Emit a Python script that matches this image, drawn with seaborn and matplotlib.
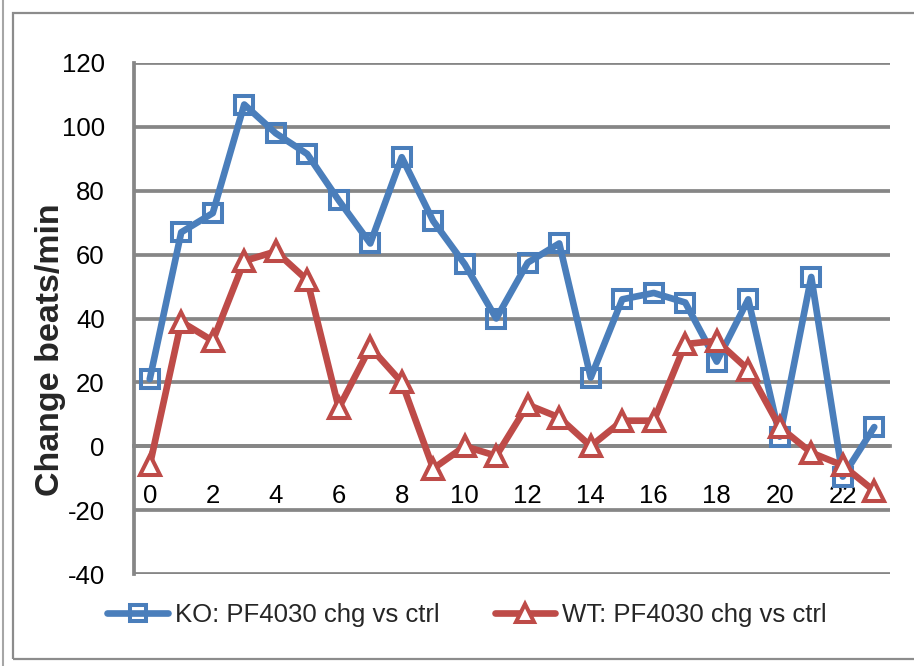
import numpy as np
import pandas as pd
import matplotlib
matplotlib.use("Agg")
import matplotlib.pyplot as plt
import seaborn as sns
from matplotlib.lines import Line2D
from matplotlib.patches import Rectangle

# ---- data ----
hours = list(range(24))
ko_values = [21, 67, 73, 107, 98, 91.5, 77, 63.5, 90.5, 70.5, 57, 40,
             57.5, 63.5, 21.5, 46, 48, 45, 26.5, 46, 3, 53, -9.5, 6]
wt_values = [-6, 39, 33, 58, 61, 52, 12, 31, 20, -7, 0, -3,
             13, 9, 0, 8, 8, 32, 33, 24, 6, -2, -6, -14]
series_names = ["KO: PF4030 chg vs ctrl", "WT: PF4030 chg vs ctrl"]
y_ticks = [-40, -20, 0, 20, 40, 60, 80, 100, 120]
x_tick_labels = [0, 2, 4, 6, 8, 10, 12, 14, 16, 18, 20, 22]
y_label = "Change beats/min"

# ---- style ----
sns.set_style("white")
plt.rcParams["font.family"] = ["Liberation Sans", "DejaVu Sans"]

BLUE = "#4A7EBB"
RED = "#BE4B48"
GRID = "#868686"
LW = 4.8
MEW = 2.9

df = pd.DataFrame({
    "hour": hours * 2,
    "value": ko_values + wt_values,
    "series": [series_names[0]] * len(hours) + [series_names[1]] * len(hours),
})

styles = {
    series_names[0]: dict(color=BLUE, marker="s", markersize=12.5, markerfacecolor="none"),
    series_names[1]: dict(color=RED, marker="^", markersize=14.5, markerfacecolor="white"),
}

fig = plt.figure(figsize=(9.14, 6.66), dpi=100)
ax = fig.add_axes([134 / 914, 1 - 574 / 666, 756 / 914, 511 / 666])

for name in series_names:
    st = styles[name]
    sns.lineplot(data=df[df["series"] == name], x="hour", y="value", ax=ax,
                 color=st["color"], marker=st["marker"], markersize=st["markersize"],
                 markerfacecolor=st["markerfacecolor"], markeredgecolor=st["color"],
                 markeredgewidth=MEW, linewidth=LW, solid_capstyle="round",
                 solid_joinstyle="round", errorbar=None, legend=False, zorder=3)

ax.set_xlim(-0.5, 23.5)
ax.set_ylim(-40, 120)
ax.set_yticks(y_ticks)
ax.set_yticklabels([str(v) for v in y_ticks])
ax.yaxis.grid(True, color=GRID, linewidth=2.7)
ax.xaxis.grid(False)
ax.set_axisbelow(True)

for s in ("top", "right"):
    ax.spines[s].set_visible(False)
ax.spines["left"].set_color(GRID)
ax.spines["left"].set_linewidth(2.7)
ax.spines["bottom"].set_position(("data", 0))
ax.spines["bottom"].set_color(GRID)
ax.spines["bottom"].set_linewidth(2.7)

ax.set_xticks(np.arange(-0.5, 24, 1))
ax.set_xticklabels([])
ax.set_xticks(x_tick_labels, minor=True)
ax.set_xticklabels([str(v) for v in x_tick_labels], minor=True)
ax.tick_params(axis="x", which="major", length=6, width=2.7, color=GRID,
               direction="out", labelbottom=False)
ax.tick_params(axis="x", which="minor", length=0, pad=27, labelsize=18.5,
               labelcolor="black")
ax.tick_params(axis="y", length=8, width=2.7, color=GRID, direction="out",
               pad=13, labelsize=18.5, labelcolor="black")

ax.set_xlabel("")
ax.set_ylabel(y_label, fontsize=24.5, fontweight="bold")
ax.yaxis.set_label_coords(-0.09, 0.438)

handles = [Line2D([], [], color=styles[n]["color"], linewidth=LW,
                  marker=styles[n]["marker"], markersize=styles[n]["markersize"] - 1,
                  markerfacecolor=styles[n]["markerfacecolor"],
                  markeredgecolor=styles[n]["color"], markeredgewidth=MEW,
                  solid_capstyle="round") for n in series_names]
fig.legend(handles, series_names, loc="center", bbox_to_anchor=(467 / 914, 1 - 615 / 666),
           ncol=2, frameon=False, fontsize=18.5, handlelength=2.35,
           handletextpad=0.27, columnspacing=2.15)

# chart frame
fig.add_artist(Rectangle((13 / 914, 1 - 659 / 666), 1.0, (659 - 13) / 666,
                         transform=fig.transFigure, fill=False,
                         edgecolor="#8c8c8c", linewidth=1.6))
fig.add_artist(Line2D([3 / 914, 3 / 914], [0, 1], transform=fig.transFigure,
                      color="#a6a6a6", linewidth=1.5))

fig.savefig("out.png", dpi=100)
